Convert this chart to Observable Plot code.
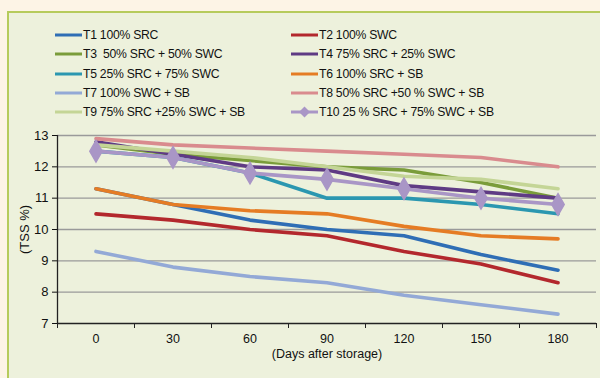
<!DOCTYPE html>
<html>
<head>
<meta charset="utf-8">
<script src="https://cdn.jsdelivr.net/npm/d3@7"></script>
<script src="https://cdn.jsdelivr.net/npm/@observablehq/plot@0.6"></script>
<style>
  html, body { margin: 0; padding: 0; }
  body { width: 600px; height: 378px; background: #fdf4e6; position: relative; overflow: hidden; font-family: "Liberation Sans", Arial, sans-serif; }
  #panel { position: absolute; left: 7px; top: 11px; width: 600px; height: 380px; background: #edf1dc; border-left: 2px solid #b6cb5c; border-top: 2px solid #b6cb5c; }
  #chart { position: absolute; left: 0; top: 0; }
  #legend { position: absolute; left: 0; top: 0; font-size: 12.2px; letter-spacing: -0.25px; color: #111; }
  .item { position: absolute; display: flex; align-items: center; white-space: pre; height: 14px; }
  .item svg { margin-right: 1px; }
</style>
</head>
<body>
<div id="panel"></div>
<div id="chart"></div>
<div id="legend"></div>
<script>
const days = [0, 30, 60, 90, 120, 150, 180];
const seriesNames = [
  "T1 100% SRC",
  "T2 100% SWC",
  "T3  50% SRC + 50% SWC",
  "T4 75% SRC + 25% SWC",
  "T5 25% SRC + 75% SWC",
  "T6 100% SRC + SB",
  "T7 100% SWC + SB",
  "T8 50% SRC +50 % SWC + SB",
  "T9 75% SRC +25% SWC + SB",
  "T10 25 % SRC + 75% SWC + SB"
];
const T1 = [11.3, 10.8, 10.3, 10.0, 9.8, 9.2, 8.7];
const T2 = [10.5, 10.3, 10.0, 9.8, 9.3, 8.9, 8.3];
const T3 = [12.7, 12.4, 12.2, 12.0, 11.9, 11.5, 11.0];
const T4 = [12.8, 12.4, 12.0, 11.9, 11.4, 11.2, 11.0];
const T5 = [12.5, 12.3, 11.8, 11.0, 11.0, 10.8, 10.5];
const T6 = [11.3, 10.8, 10.6, 10.5, 10.1, 9.8, 9.7];
const T7 = [9.3, 8.8, 8.5, 8.3, 7.9, 7.6, 7.3];
const T8 = [12.9, 12.7, 12.6, 12.5, 12.4, 12.3, 12.0];
const T9 = [12.7, 12.5, 12.3, 12.0, 11.7, 11.6, 11.3];
const T10 = [12.5, 12.3, 11.8, 11.6, 11.3, 11.0, 10.8];
const seriesValues = [T1, T2, T3, T4, T5, T6, T7, T8, T9, T10];
const colors = ["#2f6eb5", "#b3282d", "#7a9c3a", "#5f3b84", "#2b97b0", "#e57c24", "#93a9d6", "#d98b8e", "#c4d596", "#a996c6"];
const yTicks = [7, 8, 9, 10, 11, 12, 13];

const data = [];
seriesNames.forEach((name, i) => {
  days.forEach((d, j) => data.push({series: name, day: d, value: seriesValues[i][j]}));
});
const step = days[1] - days[0];
const boundaries = days.map(d => d - step / 2).concat([days[days.length - 1] + step / 2]);

const marks = [
  Plot.ruleY(yTicks.filter(t => t > yTicks[0]), {stroke: "#9a9a9a", strokeWidth: 1.3}),
  Plot.axisY({ticks: yTicks, tickSize: 5, tickPadding: 4, fontSize: 13, label: null, tickFormat: d => d}),
  Plot.ruleX([boundaries[0]], {stroke: "#222", strokeWidth: 1.3}),
  Plot.ruleY([yTicks[0]], {stroke: "#222", strokeWidth: 1.3}),
  Plot.axisX({ticks: boundaries, tickSize: 5, text: null, label: null, stroke: "#222"}),
  Plot.axisX({ticks: days, tickSize: 0, tickPadding: 11, fontSize: 12.5, label: null, tickFormat: d => d}),
  Plot.text(["(Days after storage)"], {frameAnchor: "bottom", dy: 34, fontSize: 12.5, fill: "#111"}),
  Plot.text(["(TSS %)"], {frameAnchor: "left", textAnchor: "middle", dx: -33, rotate: -90, fontSize: 13, fill: "#111"})
];
seriesNames.forEach((name, i) => {
  marks.push(Plot.line(data.filter(d => d.series === name), {x: "day", y: "value", stroke: colors[i], strokeWidth: 3.6, curve: "linear"}));
});
marks.push(Plot.dot(data.filter(d => d.series === seriesNames[9]), {x: "day", y: "value", symbol: "diamond", r: 6.5, fill: colors[9], stroke: colors[9]}));

const chart = Plot.plot({
  width: 600,
  height: 378,
  marginTop: 135,
  marginBottom: 55,
  marginLeft: 57,
  marginRight: 4,
  style: {background: "transparent", fontFamily: "Liberation Sans, Arial, sans-serif", fontSize: "13px", color: "#111", overflow: "visible"},
  x: {domain: [boundaries[0], boundaries[boundaries.length - 1]]},
  y: {domain: [yTicks[0], yTicks[yTicks.length - 1]]},
  marks
});
document.getElementById("chart").appendChild(chart);

// legend
const legend = document.getElementById("legend");
seriesNames.forEach((name, i) => {
  const col = i % 2, row = Math.floor(i / 2);
  const div = document.createElement("div");
  div.className = "item";
  div.style.left = (col === 0 ? 55 : 291) + "px";
  div.style.top = (28 + row * 19.3) + "px";
  const marker = i === 9 ? `<polygon points="13.5,1.5 19,7 13.5,12.5 8,7" fill="${colors[i]}"/>` : "";
  div.innerHTML = `<svg width="27" height="14"><line x1="0" x2="27" y1="7" y2="7" stroke="${colors[i]}" stroke-width="3"/>${marker}</svg>`;
  const span = document.createElement("span");
  span.textContent = name;
  div.appendChild(span);
  legend.appendChild(div);
});
</script>
</body>
</html>
